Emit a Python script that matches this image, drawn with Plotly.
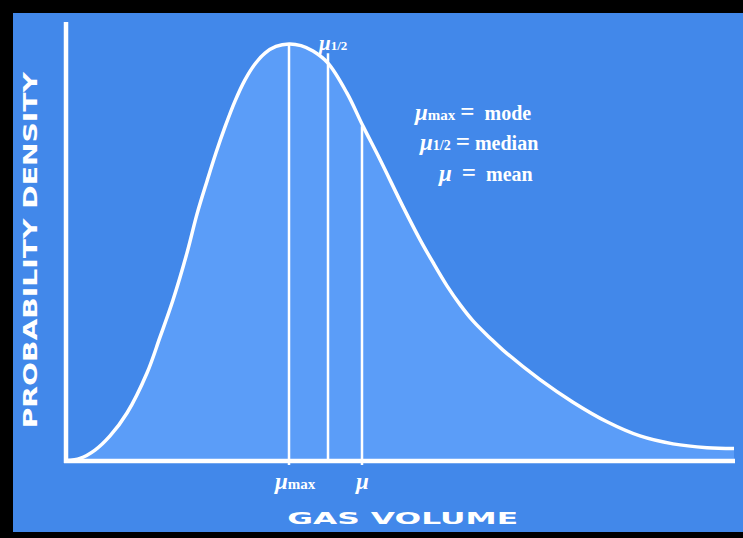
import plotly.graph_objects as go

# ---- data (gas volume in arbitrary units, density normalised to peak = 1) ----
volume = [0.01, 0.14, 0.29, 0.44, 0.61, 0.81, 0.94, 1.07, 1.21, 1.31, 1.41, 1.50, 1.59, 1.69,
          1.79, 1.89, 1.99, 2.10, 2.23, 2.35, 2.47, 2.62, 2.81, 2.97, 3.14, 3.37, 3.54, 3.67,
          3.81, 3.94, 4.07, 4.24, 4.37, 4.74, 5.07, 5.41, 5.74, 6.07, 6.41, 6.68]
density = [0.001, 0.006, 0.026, 0.060, 0.115, 0.211, 0.297, 0.386, 0.499, 0.592, 0.671, 0.739,
           0.801, 0.863, 0.914, 0.952, 0.978, 0.994, 1.0, 0.996, 0.983, 0.954, 0.882, 0.803,
           0.723, 0.610, 0.531, 0.476, 0.420, 0.375, 0.336, 0.295, 0.266, 0.195, 0.141, 0.094,
           0.060, 0.041, 0.032, 0.030]

stat_names = ["mode", "median", "mean"]
stat_volume = [2.23, 2.62, 2.96]
stat_top = [1.0, 0.978, 0.803]
stat_bottom = [-0.0096, 0.0, -0.0096]

x_title = "GAS VOLUME"
y_title = "PROBABILITY DENSITY"

BG = "#4288EA"
FILL = "#5B9DF8"
WHITE = "#FFFFFF"

fig = go.Figure()

fig.add_trace(go.Scatter(
    x=volume, y=density, mode="lines", fill="tozeroy", fillcolor=FILL,
    line=dict(color=WHITE, width=3.5, shape="spline", smoothing=1.0),
    hoverinfo="skip"))

for name, xv, yt, yb in zip(stat_names, stat_volume, stat_top, stat_bottom):
    fig.add_trace(go.Scatter(x=[xv, xv], y=[yb, yt], mode="lines",
                             line=dict(color=WHITE, width=2.5), name=name, hoverinfo="skip"))

# axes
fig.add_trace(go.Scatter(x=[-0.02, volume[-1] + 0.01], y=[0, 0], mode="lines",
                         line=dict(color=WHITE, width=4.5), hoverinfo="skip"))
fig.add_trace(go.Scatter(x=[0, 0], y=[-0.005, 1.053], mode="lines",
                         line=dict(color=WHITE, width=4.5), hoverinfo="skip"))

serif = "Liberation Serif"
mu = "<span style='font-size:23px'><i>μ</i></span>"
mu_s = "<span style='font-size:21px'><i>μ</i></span>"
eq = "<span style='font-size:25px'>=</span>"
sub = lambda s: "<span style='font-size:15px'>" + s + "</span>"

def note(x, y, text, size=20, family=serif, xanchor="left", **kw):
    return dict(x=x, y=y, xref="x", yref="y", xanchor=xanchor, yanchor="middle",
                showarrow=False, text=text,
                font=dict(family=family, size=size, color=WHITE, weight="bold"), **kw)

annotations = [
    note(2.50, 1.003, mu_s + "<span style='font-size:13px'>1/2</span>", size=15),
    note(3.46, 0.837, mu + sub("max") + " " + eq + "  mode"),
    note(3.51, 0.765, mu + "<span style='font-size:14px'>1/2</span> " + eq + " median"),
    note(3.70, 0.693, mu + "  " + eq + "  mean"),
    note(2.06, -0.05, mu + sub("max")),
    note(stat_volume[2], -0.05, mu, xanchor="center"),
    note(3.36, -0.139, x_title, size=16.5, family="DejaVu Sans", xanchor="center"),
    note(-0.365, 0.506, y_title, size=20, family="DejaVu Sans", xanchor="center", textangle=-90),
]

fig.update_layout(
    width=743, height=538,
    margin=dict(l=13, r=0, t=13, b=6),
    paper_bgcolor="#000000", plot_bgcolor=BG,
    showlegend=False,
    xaxis=dict(range=[-0.53, 6.77], visible=False, fixedrange=True),
    yaxis=dict(range=[-0.1703, 1.0743], visible=False, fixedrange=True),
    annotations=annotations,
)

post = """
document.body.style.margin = '0';
document.body.style.overflow = 'hidden';
document.querySelectorAll('.annotation-text').forEach(function(t){
  var s = t.textContent;
  var k = null;
  if (s === 'GAS VOLUME') { k = 1.9; }
  if (s === 'PROBABILITY DENSITY') { k = 1.41; }
  if (k) {
    t.style.transformBox = 'fill-box';
    t.style.transformOrigin = 'center';
    t.style.transform = 'scaleX(' + k + ')';
  }
});
"""

fig.write_html("out.html", post_script=post, config={"displayModeBar": False})
